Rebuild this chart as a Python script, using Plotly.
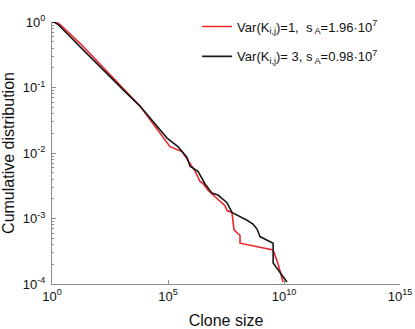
import plotly.graph_objects as go

# Red series: Var(K_ij)=1
red_x = [1, 1.49, 2.2, 6.0, 16, 43, 117, 316, 1.4e3, 6.2e3, 1.7e4, 4.5e4, 9.1e4, 1.22e5,
         4.0e5, 7.3e5, 1.46e6, 2.4e6, 3.2e6, 5.3e6, 1.29e7, 2.86e7, 3.5e7, 5.7e7, 7.0e7,
         1.27e8, 1.27e8, 3.4e9, 5.5e9, 9.1e9]
red_y = [1, 0.983, 0.918, 0.665, 0.473, 0.331, 0.228, 0.157, 0.0927, 0.052, 0.0323, 0.0201,
         0.0148, 0.0125, 0.0105, 0.0075, 0.00533, 0.00367, 0.00343, 0.0027, 0.00206, 0.00157,
         0.00132, 0.00124, 0.00067, 0.00055, 0.00042, 0.00033, 0.000204, 0.000107]

# Black series: Var(K_ij)=3
black_x = [1, 1.35, 1.8, 2.7, 6.0, 16, 43, 117, 316, 1.4e3, 6.2e3, 1.7e4, 5.5e4, 9.1e4, 2.7e5,
           6.6e5, 8.9e5, 2.0e6, 3.9e6, 7.9e6, 1.43e7, 3.5e7, 5.7e7, 1.04e8, 2.54e8, 4.6e8,
           6.9e8, 9.2e8, 3.4e9, 3.4e9, 6.7e9, 1.35e10]
black_y = [1, 0.983, 0.918, 0.80, 0.60, 0.42, 0.294, 0.206, 0.144, 0.0865, 0.052, 0.0346,
           0.0207, 0.0169, 0.0125, 0.0086, 0.0063, 0.0052, 0.0034, 0.00244, 0.00228, 0.00174,
           0.00124, 0.00112, 0.00094, 0.00082, 0.00069, 0.00053, 0.00042, 0.00021, 0.00015,
           0.000107]

red_name = "Var(K<sub>i,j</sub>)=1,  s<sub> A</sub>=1.96·10<sup>7</sup>"
black_name = "Var(K<sub>i,j</sub>)= 3, s<sub> A</sub>=0.98·10<sup>7</sup>"

x_tickvals = [1, 1e5, 1e10, 1e15]
x_ticktext = ["10<sup>0</sup>", "10<sup>5</sup>", "10<sup>10</sup>", "10<sup>15</sup>"]
y_tickvals = [1e-4, 1e-3, 1e-2, 1e-1, 1]
y_ticktext = ["10<sup>-4</sup>", "10<sup>-3</sup>", "10<sup>-2</sup>", "10<sup>-1</sup>", "10<sup>0</sup>"]
y_minor = [m * 10.0 ** e for e in range(-4, 0) for m in range(2, 10)]

fig = go.Figure()
fig.add_trace(go.Scatter(x=red_x, y=red_y, mode="lines", name=red_name, legendgroup="a",
                         line=dict(color="#e8262b", width=1.6)))
fig.add_trace(go.Scatter(x=black_x, y=black_y, mode="lines", name=black_name, legendgroup="b",
                         line=dict(color="#1a1a1a", width=1.6)))

font = dict(family="Liberation Sans, Arial, sans-serif", size=13, color="#111")
axis_common = dict(showgrid=False, zeroline=False, showline=True, linecolor="#8c8c8c",
                   linewidth=1, ticks="inside", ticklen=4, tickcolor="#8c8c8c", mirror=False,
                   automargin=False)

fig.update_layout(
    width=415, height=329,
    margin=dict(l=52, r=15, t=13, b=45),
    paper_bgcolor="white", plot_bgcolor="white",
    font=font,
    showlegend=True,
    legend=dict(x=0.417, y=1.04, xanchor="left", yanchor="top", bgcolor="rgba(0,0,0,0)",
                traceorder="grouped", tracegroupgap=10, itemwidth=30, font=dict(size=13)),
    xaxis=dict(type="log", range=[0, 15], tickvals=x_tickvals, ticktext=x_ticktext,
               title=dict(text="Clone size"), ticklabelstandoff=0, **axis_common),
    yaxis=dict(type="log", range=[-4, 0], tickvals=y_tickvals, ticktext=y_ticktext,
               title=dict(text="Cumulative distribution"), ticklabelstandoff=3,
               minor=dict(tickvals=y_minor, ticks="inside", ticklen=2, tickcolor="#8c8c8c"),
               **axis_common),
)

fig.write_html("out.html", config={"displayModeBar": False},
               post_script="document.body.style.margin='0px';")
